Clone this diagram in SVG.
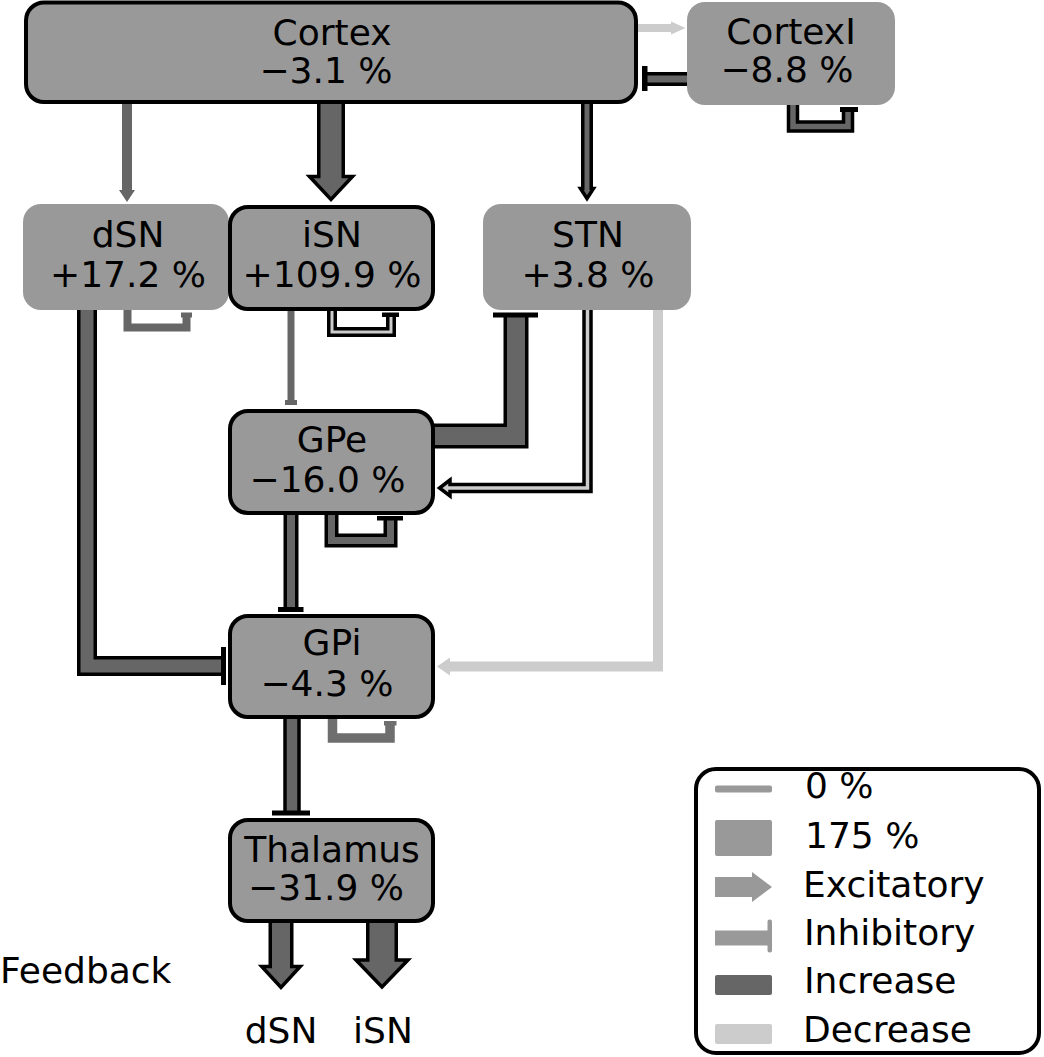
<svg xmlns="http://www.w3.org/2000/svg" width="1044" height="1057" viewBox="0 0 1044 1057">
<style>
text{font-family:"DejaVu Sans","Liberation Sans",sans-serif;font-size:36px;fill:#000}
.c{text-anchor:middle}
.n{fill:#999}
.ns{fill:#999;stroke:#000;stroke-width:4}
.o{fill:none;stroke:#000;stroke-linejoin:miter;stroke-linecap:butt}
.d{fill:none;stroke:#666;stroke-linejoin:miter;stroke-linecap:butt}
.l{fill:none;stroke:#ccc;stroke-linejoin:miter;stroke-linecap:butt}
.hd{fill:#666;stroke:#000;stroke-width:3.5;stroke-linejoin:miter}
.hl{fill:#ccc;stroke:#000;stroke-width:3.5;stroke-linejoin:miter}
.b{fill:#000}
</style>
<rect width="1044" height="1057" fill="#fff"/>
<g id="connectors">
  <!-- Cortex -> CortexI -->
  <path class="l" d="M636,28H673" stroke-width="8"/>
  <polygon fill="#ccc" points="671,21.5 685.5,28 671,34.5"/>
  <!-- CortexI -| Cortex -->
  <path class="o" d="M690,79H646" stroke-width="14"/>
  <path class="d" d="M690,79H646" stroke-width="7"/>
  <rect class="b" x="642" y="66" width="5.5" height="25"/>
  <!-- CortexI self -->
  <path class="o" d="M793,100V126.5H848V111" stroke-width="12.5"/>
  <path class="d" d="M793,100V126.5H848V111" stroke-width="5.5"/>
  <rect class="b" x="840" y="107" width="18" height="5"/>
  <!-- Cortex -> dSN -->
  <path class="d" d="M127,100V191" stroke-width="10"/>
  <polygon fill="#666" points="119,190 127,202 135,190"/>
  <!-- Cortex -> iSN -->
  <path class="o" d="M331,100V178" stroke-width="28"/>
  <polygon class="hd" points="309.5,176.5 331,199.5 352.5,176.5"/>
  <path class="d" d="M331,100V179" stroke-width="21"/>
  <!-- Cortex -> STN -->
  <path class="o" d="M587,100V190" stroke-width="12"/>
  <polygon class="hd" points="580.5,188.5 587,198.5 593.5,188.5"/>
  <path class="d" d="M587,100V191" stroke-width="5"/>
  <!-- dSN self -->
  <path class="d" d="M127.5,306V327.5H186.5V316" stroke-width="8"/>
  <rect fill="#666" x="181" y="312.5" width="11" height="5"/>
  <!-- iSN self -->
  <path class="o" d="M332,306V332H391V315" stroke-width="10"/>
  <path class="l" d="M332,306V332H391V315" stroke-width="3"/>
  <rect class="b" x="382" y="312.5" width="17" height="4.5"/>
  <!-- iSN -| GPe -->
  <path class="d" d="M291,306V402" stroke-width="7"/>
  <rect fill="#666" x="285" y="400" width="12" height="5"/>
  <!-- GPe -| STN -->
  <path class="o" d="M430,436H516V316" stroke-width="25"/>
  <path class="d" d="M430,436H516V316" stroke-width="18"/>
  <rect class="b" x="493" y="312.5" width="45" height="5"/>
  <!-- STN -> GPe -->
  <path class="o" d="M587.5,306V488H449" stroke-width="10.5"/>
  <polygon class="hl" points="450,480 439.5,488 450,496"/>
  <path class="l" d="M587.5,306V488H447" stroke-width="3.5"/>
  <!-- STN -> GPi -->
  <path class="l" d="M658,306V666.5H448" stroke-width="10"/>
  <polygon fill="#ccc" points="450,657.5 437,666.5 450,675.5"/>
  <!-- dSN -| GPi -->
  <path class="o" d="M87,306V666H223" stroke-width="20"/>
  <path class="d" d="M87,306V666H223" stroke-width="13"/>
  <rect class="b" x="221" y="647" width="5" height="38"/>
  <!-- GPe self -->
  <path class="o" d="M331.5,511V540.5H390.5V519" stroke-width="14"/>
  <path class="d" d="M331.5,511V540.5H390.5V519" stroke-width="7"/>
  <rect class="b" x="377" y="516" width="26" height="4.5"/>
  <!-- GPe -| GPi -->
  <path class="o" d="M291,511V609" stroke-width="15"/>
  <path class="d" d="M291,511V609" stroke-width="8"/>
  <rect class="b" x="278" y="607" width="25.5" height="5"/>
  <!-- GPi self -->
  <path class="d" d="M332.5,715V738H390V724" stroke-width="9.5" style="stroke:#6e6e6e"/>
  <rect fill="#6e6e6e" x="384" y="721" width="12.5" height="4.5"/>
  <!-- GPi -| Thalamus -->
  <path class="o" d="M292,715V812" stroke-width="17.5"/>
  <path class="d" d="M292,715V812" stroke-width="10.5"/>
  <rect class="b" x="272" y="810.5" width="38" height="5"/>
  <!-- Thalamus -> dSN -->
  <path class="o" d="M281,918V968" stroke-width="25"/>
  <polygon class="hd" points="261.75,966.5 281,987.5 300.25,966.5"/>
  <path class="d" d="M281,918V969.5" stroke-width="18"/>
  <!-- Thalamus -> iSN -->
  <path class="o" d="M382,918V961" stroke-width="32"/>
  <polygon class="hd" points="356,960 382,987 408,960"/>
  <path class="d" d="M382,918V962.5" stroke-width="25"/>
</g>
<g id="Cortex">
  <rect class="ns" x="26" y="2.5" width="610" height="99.5" rx="18"/>
  <text class="c" x="332" y="45">Cortex</text>
  <text class="c" x="326" y="83">−3.1 %</text>
</g>
<g id="CortexI">
  <rect class="n" x="687" y="2" width="208" height="103" rx="18"/>
  <text class="c" x="791" y="44">CortexI</text>
  <text class="c" x="787" y="82">−8.8 %</text>
</g>
<g id="dSN">
  <rect class="n" x="23" y="204" width="206" height="106" rx="18"/>
  <text class="c" x="128" y="247">dSN</text>
  <text class="c" x="128" y="287">+17.2 %</text>
</g>
<g id="iSN">
  <rect class="ns" x="230" y="207" width="203" height="102" rx="18"/>
  <text class="c" x="332" y="247">iSN</text>
  <text class="c" x="332" y="287">+109.9 %</text>
</g>
<g id="STN">
  <rect class="n" x="483" y="204" width="208" height="106" rx="18"/>
  <text class="c" x="588" y="247">STN</text>
  <text class="c" x="588" y="287">+3.8 %</text>
</g>
<g id="GPe">
  <rect class="ns" x="230" y="411" width="203" height="102" rx="18"/>
  <text class="c" x="332" y="452">GPe</text>
  <text class="c" x="327.5" y="492">−16.0 %</text>
</g>
<g id="GPi">
  <rect class="ns" x="230" y="616" width="203" height="101" rx="18"/>
  <text class="c" x="332" y="655">GPi</text>
  <text class="c" x="327" y="696">−4.3 %</text>
</g>
<g id="Thalamus">
  <rect class="ns" x="230" y="820" width="203" height="101" rx="18"/>
  <text class="c" x="332" y="862">Thalamus</text>
  <text class="c" x="326" y="900">−31.9 %</text>
</g>
<g id="feedback">
  <text x="0" y="983">Feedback</text>
  <text class="c" x="281" y="1043">dSN</text>
  <text class="c" x="383" y="1043">iSN</text>
</g>
<g id="legend">
  <rect x="696" y="769" width="343" height="284" rx="20" fill="#fff" stroke="#000" stroke-width="4"/>
  <rect x="715" y="785.5" width="57" height="7" rx="2" fill="#999"/>
  <rect x="715" y="820" width="57" height="36" rx="2" fill="#999"/>
  <polygon fill="#999" points="715,877 752,877 752,872 772,887 752,902 752,897 715,897"/>
  <rect x="715" y="930.5" width="55" height="15" fill="#999"/>
  <rect x="767.5" y="919.5" width="4.5" height="33" rx="2" fill="#999"/>
  <rect x="715" y="975" width="57" height="20" rx="2" fill="#666"/>
  <rect x="715" y="1024" width="57" height="20" rx="2" fill="#ccc"/>
  <text x="805" y="798">0 %</text>
  <text x="805" y="848">175 %</text>
  <text x="803" y="897">Excitatory</text>
  <text x="804" y="945">Inhibitory</text>
  <text x="804" y="993">Increase</text>
  <text x="803" y="1042">Decrease</text>
</g>
</svg>
